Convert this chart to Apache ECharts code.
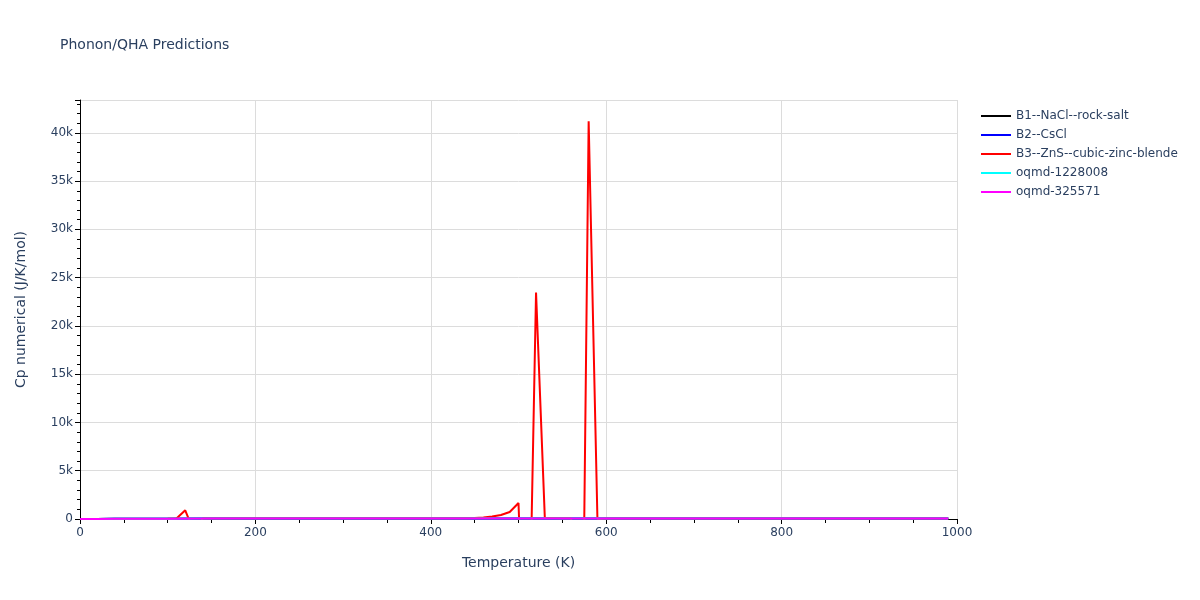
<!DOCTYPE html>
<html>
<head>
<meta charset="utf-8">
<script src="https://cdn.jsdelivr.net/npm/echarts@6/dist/echarts.min.js"></script>
<style>html,body{margin:0;padding:0;background:#fff}#c{width:1200px;height:600px}</style>
</head>
<body>
<div id="c"></div>
<script>
// Temperatures (K) at which the near-flat series were read
const tempsBase = [0, 10, 20, 40, 60, 80, 100, 150, 200, 300, 400, 500, 600, 700, 800, 900, 990];
const b1Rock = [0, 1, 5, 15, 24, 30, 35, 42, 45, 48, 49, 50, 50.5, 51, 51.5, 52, 52.5];
const b2CsCl = [0, 1.5, 6, 17, 26, 32, 36, 43, 46, 48.5, 49.5, 50, 50.5, 51, 51.5, 52, 52.5];
const oqmd1228008 = [0, 1, 5, 16, 25, 31, 35, 42, 45, 48, 49, 50, 50.5, 51, 51.5, 52, 52.5];
const oqmd325571 = [0, 1.2, 5.5, 16, 25, 31, 36, 43, 46, 48.5, 49.5, 50, 50.5, 51, 51.5, 52, 52.5];

// B3 (zinc blende) series read at its own temperatures
const tempsB3 = [0, 50, 100, 110, 120, 130, 140, 200, 300, 400, 440, 450, 460, 470, 480, 490, 500, 510, 520, 530, 540, 550, 560, 570, 580, 590, 600, 700, 800, 900, 990];
const b3ZnS = [0, 5, 20, 50, 900, -1350, 60, 70, 75, 80, 90, 110, 160, 250, 420, 730, 1660, -23400, 23450, 140, 100, 80, 70, -41200, 41200, 0, 60, 60, 60, 60, 60];

const seriesNames = ['B1--NaCl--rock-salt', 'B2--CsCl', 'B3--ZnS--cubic-zinc-blende', 'oqmd-1228008', 'oqmd-325571'];
const seriesColors = ['#000000', '#0000ff', '#ff0000', '#00ffff', '#ff00ff'];
const yTicks = [0, 5000, 10000, 15000, 20000, 25000, 30000, 35000, 40000];
const xTicks = [0, 200, 400, 600, 800, 1000];

const pair = (xs, ys) => xs.map((x, i) => [x, ys[i]]);
const dataSets = [
  pair(tempsBase, b1Rock),
  pair(tempsBase, b2CsCl),
  pair(tempsB3, b3ZnS),
  pair(tempsBase, oqmd1228008),
  pair(tempsBase, oqmd325571)
];

const font = '"DejaVu Sans", Verdana, sans-serif';
const txt = '#2a3f5f';

const chart = echarts.init(document.getElementById('c'), null, {renderer: 'canvas'});
chart.setOption({
  animation: false,
  backgroundColor: '#ffffff',
  textStyle: {fontFamily: font},
  title: {
    text: 'Phonon/QHA Predictions',
    left: 55, top: 33,
    textStyle: {fontFamily: font, fontSize: 14, fontWeight: 'normal', color: txt}
  },
  legend: {
    orient: 'vertical',
    left: 976, top: 104,
    icon: 'rect',
    itemWidth: 30, itemHeight: 2,
    itemGap: 5,
    textStyle: {fontFamily: font, fontSize: 12, color: txt, lineHeight: 14},
    data: seriesNames
  },
  grid: {left: 80, right: 243, top: 100, bottom: 81, containLabel: false},
  xAxis: {
    type: 'value',
    min: 0, max: 1000, interval: 200,
    name: 'Temperature (K)',
    nameLocation: 'middle', nameGap: 37,
    nameTextStyle: {fontFamily: font, fontSize: 14, color: txt},
    axisLine: {show: true, onZero: false, lineStyle: {color: '#000', width: 1}},
    axisTick: {show: true, length: 5, lineStyle: {color: '#000'}},
    minorTick: {show: true, splitNumber: 4, length: 4, lineStyle: {color: '#000'}},
    axisLabel: {fontFamily: font, fontSize: 12, color: txt, margin: 8,
      formatter: v => xTicks.includes(v) ? String(v) : ''},
    splitLine: {show: true, lineStyle: {color: '#dcdcdc', width: 1}}
  },
  yAxis: {
    type: 'value',
    min: 0, max: 43400, interval: 5000,
    name: 'Cp numerical (J/K/mol)',
    nameLocation: 'middle', nameGap: 52,
    nameTextStyle: {fontFamily: font, fontSize: 14, color: txt},
    axisLine: {show: true, onZero: false, lineStyle: {color: '#000', width: 1}},
    axisTick: {show: true, length: 5, lineStyle: {color: '#000'}},
    minorTick: {show: true, splitNumber: 5, length: 3, lineStyle: {color: '#000'}},
    axisLabel: {fontFamily: font, fontSize: 12, color: txt, margin: 7,
      showMaxLabel: false,
      formatter: v => yTicks.includes(v) ? (v === 0 ? '0' : (v / 1000) + 'k') : ''},
    splitLine: {show: true, lineStyle: {color: '#dcdcdc', width: 1}}
  },
  series: seriesNames.map((n, i) => ({
    name: n,
    type: 'line',
    data: dataSets[i],
    showSymbol: false,
    symbol: 'none',
    clip: true,
    lineStyle: {color: seriesColors[i], width: 2},
    itemStyle: {color: seriesColors[i]},
    z: 2 + i
  }))
});
</script>
</body>
</html>
